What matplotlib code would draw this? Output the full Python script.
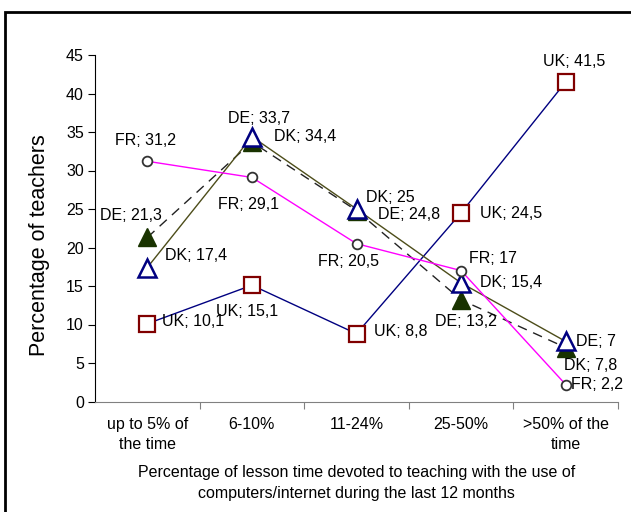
import matplotlib
matplotlib.use("Agg")
import matplotlib.pyplot as plt
from matplotlib.patches import Rectangle
import numpy as np

plt.rcParams["font.family"] = ["Liberation Sans", "DejaVu Sans"]

categories = ["up to 5% of\nthe time", "6-10%", "11-24%", "25-50%", ">50% of the\ntime"]
uk = [10.1, 15.1, 8.8, 24.5, 41.5]
de = [21.3, 33.7, 24.8, 13.2, 7.0]
dk = [17.4, 34.4, 25.0, 15.4, 7.8]
fr = [31.2, 29.1, 20.5, 17.0, 2.2]

# label offsets in pixels (dx, dy up) and alignment
UK_OFF = [(15, 2, "left"), (-5, -26, "center"), (18, 2, "left"), (19, -1, "left"), (8, 20, "center")]
DE_OFF = [(-16, 22, "center"), (7, 24, "center"), (21, -4, "left"), (5, -22, "center"), (10, 6, "left")]
DK_OFF = [(18, 12, "left"), (22, 0, "left"), (9, 12, "left"), (19, 0, "left"), (-2, -24, "left")]
FR_OFF = [(-2, 21, "center"), (-3, -27, "center"), (-8, -18, "center"), (8, 12, "left"), (5, 0, "left")]

W, H = 631, 512
fig = plt.figure(figsize=(W / 100, H / 100), dpi=100)
ax = fig.add_axes([95 / W, 1 - 401.5 / H, (618 - 95) / W, (401.5 - 55) / H])

x = np.arange(len(categories))
ax.plot(x, uk, color="#000080", lw=1, marker="s", ms=11, mfc="white",
        mec="#800000", mew=1.6, zorder=3)
ax.plot(x, de, color="#222222", lw=1, ls=(0, (7, 5)), marker="^", ms=13,
        mfc="#193300", mec="#193300", zorder=2)
ax.plot(x, dk, color="#4d4d1a", lw=1, marker="^", ms=13, mfc="white",
        mec="#000080", mew=1.8, zorder=3)
ax.plot(x, fr, color="#ff00ff", lw=1, marker="o", ms=7, mfc="white",
        mec="#333333", mew=1.3, zorder=4)


def label(name, vals, offs):
    for i, (v, (dx, dy, ha)) in enumerate(zip(vals, offs)):
        txt = f"{name}; {v:g}".replace(".", ",")
        ax.annotate(txt, (i, v), xytext=(dx * 0.72, dy * 0.72),
                    textcoords="offset points", ha=ha, va="center",
                    fontsize=11.5, zorder=5)


label("UK", uk, UK_OFF)
label("DE", de, DE_OFF)
label("DK", dk, DK_OFF)
label("FR", fr, FR_OFF)

ax.set_xlim(-0.5, 4.5)
ax.set_ylim(0, 45)
ax.set_yticks(np.arange(0, 46, 5))
ax.set_xticks(np.arange(0.5, 4.6, 1), minor=False)
ax.set_xticklabels([])
ax.set_xticks(x, minor=True)
ax.set_xticklabels(categories, minor=True, fontsize=11.5, linespacing=1.45)
ax.tick_params(axis="x", which="minor", length=0, pad=11)
ax.tick_params(axis="x", which="major", length=5, color="#808080")
ax.tick_params(axis="y", length=5, labelsize=11.5, pad=3)
for s in ["top", "right"]:
    ax.spines[s].set_visible(False)
ax.spines["bottom"].set_color("#808080")
ax.spines["left"].set_color("black")

ax.set_xlabel("Percentage of lesson time devoted to teaching with the use of\n"
              "computers/internet during the last 12 months", fontsize=11.5,
              labelpad=9, linespacing=1.55)
fig.text(40 / W, 1 - 245 / H, "Percentage of teachers", rotation=90,
         ha="center", va="center", fontsize=15.5)

fig.patches.append(Rectangle((5 / W, -0.1), 1.2, 1 - 12 / H + 0.1,
                             transform=fig.transFigure, fill=False,
                             ec="black", lw=2))

fig.savefig("out.png", dpi=100)
